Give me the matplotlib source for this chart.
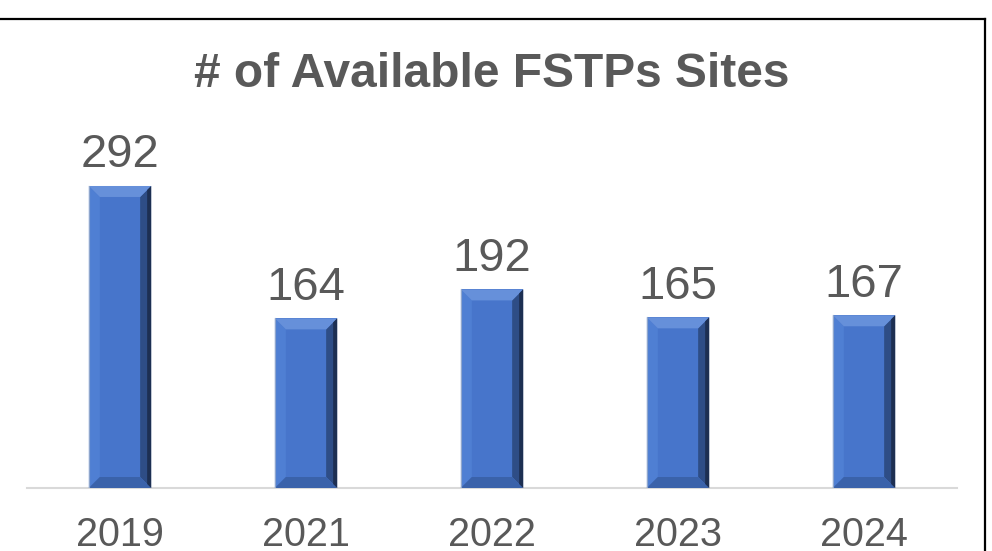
import matplotlib
matplotlib.use("Agg")
import matplotlib.pyplot as plt
from matplotlib.patches import Polygon
from matplotlib.lines import Line2D

# 数据
years = ["2019", "2021", "2022", "2023", "2024"]
sites = [292, 164, 192, 165, 167]

title = "# of Available FSTPs Sites"
text_gray = "#595959"

plt.rcParams['font.family'] = ['Liberation Sans', 'DejaVu Sans']

W, H = 992, 551
fig = plt.figure(figsize=(W / 100, H / 100), dpi=100)
ax = fig.add_axes([27 / W, (H - 488) / H, 930 / W, 362 / H])

x = list(range(len(years)))
bars = ax.bar(x, sites, width=0.335, color="#4775CB", zorder=2)
ax.set_xlim(-0.5, len(years) - 0.5)
ax.set_ylim(0, 350)

# 坐标轴样式
for s in ["top", "left", "right"]:
    ax.spines[s].set_visible(False)
ax.spines["bottom"].set_color("#D9D9D9")
ax.spines["bottom"].set_linewidth(1.5)
ax.set_yticks([])
ax.set_xticks(x)
ax.set_xticklabels(years, fontsize=28.5, color=text_gray)
ax.tick_params(axis="x", length=0, pad=20)

# 斜面效果 (bevel), 像素换算成数据单位
px_x = 1.0 / 186
px_y = 350 / 362
b = 11
for bar in bars:
    x0 = bar.get_x()
    x1 = x0 + bar.get_width()
    y0 = 0
    y1 = bar.get_height()
    bx = b * px_x
    by = b * px_y
    top = [(x0, y1), (x1, y1), (x1 - bx, y1 - by), (x0 + bx, y1 - by)]
    bottom = [(x0, y0), (x1, y0), (x1 - bx, y0 + by), (x0 + bx, y0 + by)]
    left = [(x0, y0), (x0, y1), (x0 + bx, y1 - by), (x0 + bx, y0 + by)]
    right = [(x1, y0), (x1, y1), (x1 - bx, y1 - by), (x1 - bx, y0 + by)]
    ax.add_patch(Polygon(left, closed=True, color="#4F7FD3", lw=0, zorder=3))
    ax.add_patch(Polygon(right, closed=True, color="#2E4D86", lw=0, zorder=3))
    ax.add_patch(Polygon(bottom, closed=True, color="#3A62AA", lw=0, zorder=4))
    ax.add_patch(Polygon(top, closed=True, color="#6690DA", lw=0, zorder=4))
    # 右侧更暗的边
    ax.add_patch(Polygon([(x1, y0), (x1, y1), (x1 - 4 * px_x, y1 - 4 * px_y),
                          (x1 - 4 * px_x, y0 + 4 * px_y)],
                         closed=True, color="#1D2F52", lw=0, zorder=5))
    ax.plot([x0, x0], [y0, y1], color="#8FA6CC", lw=0.8, zorder=5)

# 数值标签
for xi, v in zip(x, sites):
    ax.annotate(str(v), (xi, v), xytext=(0, 13.5), textcoords="offset points",
                ha="center", va="baseline", fontsize=34, color=text_gray)

fig.text(492 / W, 1 - 75 / H, title, ha="center", va="center",
         fontsize=34.5, fontweight="bold", color=text_gray)

# 外框 (上边和右边)
fig.add_artist(Line2D([0, 985 / W], [1 - 19 / H, 1 - 19 / H], color="black", lw=1.6))
fig.add_artist(Line2D([985 / W, 985 / W], [1 - 19 / H, 0], color="black", lw=1.6))

fig.savefig("out.png", dpi=100)
